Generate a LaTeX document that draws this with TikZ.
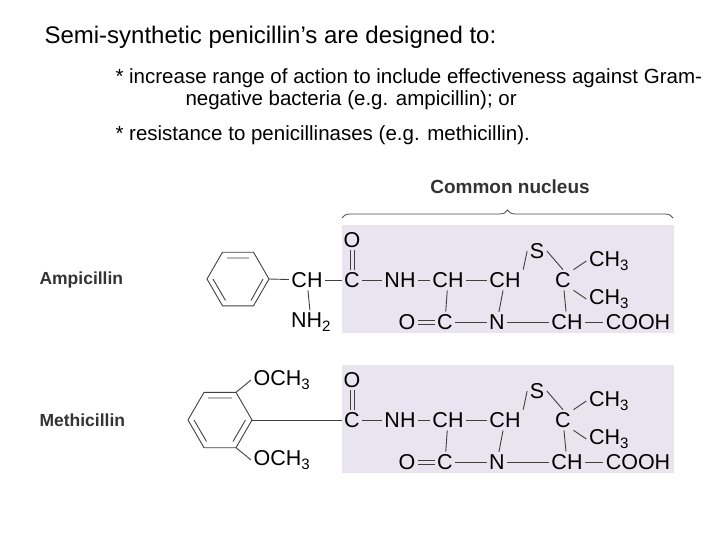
\documentclass[tikz,border=0pt]{standalone}
\usepackage{fontspec}
\setmainfont{Liberation Sans}
\usetikzlibrary{decorations.pathreplacing}
\definecolor{boxc}{RGB}{232,228,240}
\begin{document}
\begin{tikzpicture}[x=1pt,y=-1pt,
  atm/.style={inner sep=2.5pt,font=\fontsize{21.5}{21.5}\selectfont},
  bd/.style={line width=0.9pt,draw=black!75},
  lbl/.style={font=\fontsize{17.5}{17.5}\selectfont\bfseries,text=black!80,anchor=west},
  txt/.style={font=\fontsize{20.5}{24}\selectfont,anchor=west}]
\useasboundingbox (0,0) rectangle (720,540);
\node[txt,font=\fontsize{24}{28}\selectfont] (t) at (41,37) {Semi-synthetic penicillin’s are designed to:};
\node[txt] (b1) at (112,78) {* increase range of action to include effectiveness against Gram-};
\node[txt] (b1b) at (182,100) {negative bacteria (e.g. ampicillin); or};
\node[txt] (b2) at (112,135) {* resistance to penicillinases (e.g. methicillin).};
\node[font=\fontsize{19}{19}\selectfont\bfseries,text=black!80] (cn) at (510,187) {Common nucleus};
\coordinate (bl) at (342,218); \coordinate (br) at (673,218);
\draw[line width=0.8pt,black!70,decorate,decoration={brace,amplitude=8pt}] (bl) -- (br);
\foreach \n/\oy in {A/0,M/140}{
  \fill[fill=boxc] (342,225+\oy) rectangle (674,333+\oy);
  \begin{scope}[yshift=-\oy]
  \node[atm] (\n o) at (352,240) {O};
  \node[atm] (\n c) at (352,280) {C};
  \node[atm] (\n nh) at (400,280) {NH};
  \node[atm] (\n ch1) at (448,280) {CH};
  \node[atm] (\n ch2) at (505,280) {CH};
  \node[atm] (\n s) at (537,251) {S};
  \node[atm] (\n c2) at (563,280) {C};
  \node[atm] (\n m1) at (609,261) {CH\textsubscript{3}};
  \node[atm] (\n m2) at (609,299) {CH\textsubscript{3}};
  \node[atm] (\n o2) at (407,322) {O};
  \node[atm] (\n c3) at (445,322) {C};
  \node[atm] (\n n) at (497,322) {N};
  \node[atm] (\n ch3) at (567,322) {CH};
  \node[atm] (\n cooh) at (638,322) {COOH};
  \draw[bd] ([xshift=-2pt]\n o.south) -- ([xshift=-2pt]\n c.north);
  \draw[bd] ([xshift=2pt]\n o.south) -- ([xshift=2pt]\n c.north);
  \draw[bd] (\n c) -- (\n nh); \draw[bd] (\n nh) -- (\n ch1); \draw[bd] (\n ch1) -- (\n ch2);
  \draw[bd] (\n ch2.north east) -- (\n s.west); \draw[bd] (\n s.east) -- (\n c2.north);
  \draw[bd] (\n c2.north east) -- (\n m1.west); \draw[bd] (\n c2.south east) -- (\n m2.west);
  \draw[bd] (\n ch1) -- (\n c3); \draw[bd] (\n ch2) -- (\n n); \draw[bd] (\n c2) -- (\n ch3);
  \draw[bd] ([yshift=-2pt]\n o2.east) -- ([yshift=-2pt]\n c3.west);
  \draw[bd] ([yshift=2pt]\n o2.east) -- ([yshift=2pt]\n c3.west);
  \draw[bd] (\n c3) -- (\n n); \draw[bd] (\n n) -- (\n ch3); \draw[bd] (\n ch3) -- (\n cooh);
  \end{scope}
}
% Ampicillin
\node[lbl] (la) at (36,280) {Ampicillin};
\node[atm] (ach) at (307,280) {CH};
\node[atm] (anh) at (311,322) {NH\textsubscript{2}};
\coordinate (ar) at (269,279);
\draw[bd] (269,279) -- (253.5,252.2) -- (222.5,252.2) -- (207,279) -- (222.5,305.8) -- (253.5,305.8) -- cycle;
\draw[bd] (249,258) -- (227,258) (213,279) -- (225.5,300.5) (251,300.5) -- (263,279);
\draw[bd] (ar) -- (ach); \draw[bd] (ach) -- (Ac); \draw[bd] (ach) -- (anh);
% Methicillin
\node[lbl] (lm) at (36,420) {Methicillin};
\node[atm,anchor=west] (om1) at (251,380) {OCH\textsubscript{3}};
\node[atm,anchor=west] (om2) at (251,460) {OCH\textsubscript{3}};
\coordinate (mr) at (252,420);
\coordinate (mu) at (236,392.3);
\coordinate (md) at (236,447.7);
\draw[bd] (252,420) -- (236,392.3) -- (204,392.3) -- (188,420) -- (204,447.7) -- (236,447.7) -- cycle;
\draw[bd] (232,398) -- (208,398) (194,420) -- (206.5,441.5) (245.5,420) -- (233,441.5);
\draw[bd] (mr) -- (Mc); \draw[bd] (mu) -- (om1.west); \draw[bd] (md) -- (om2.west);
\end{tikzpicture}
\end{document}
